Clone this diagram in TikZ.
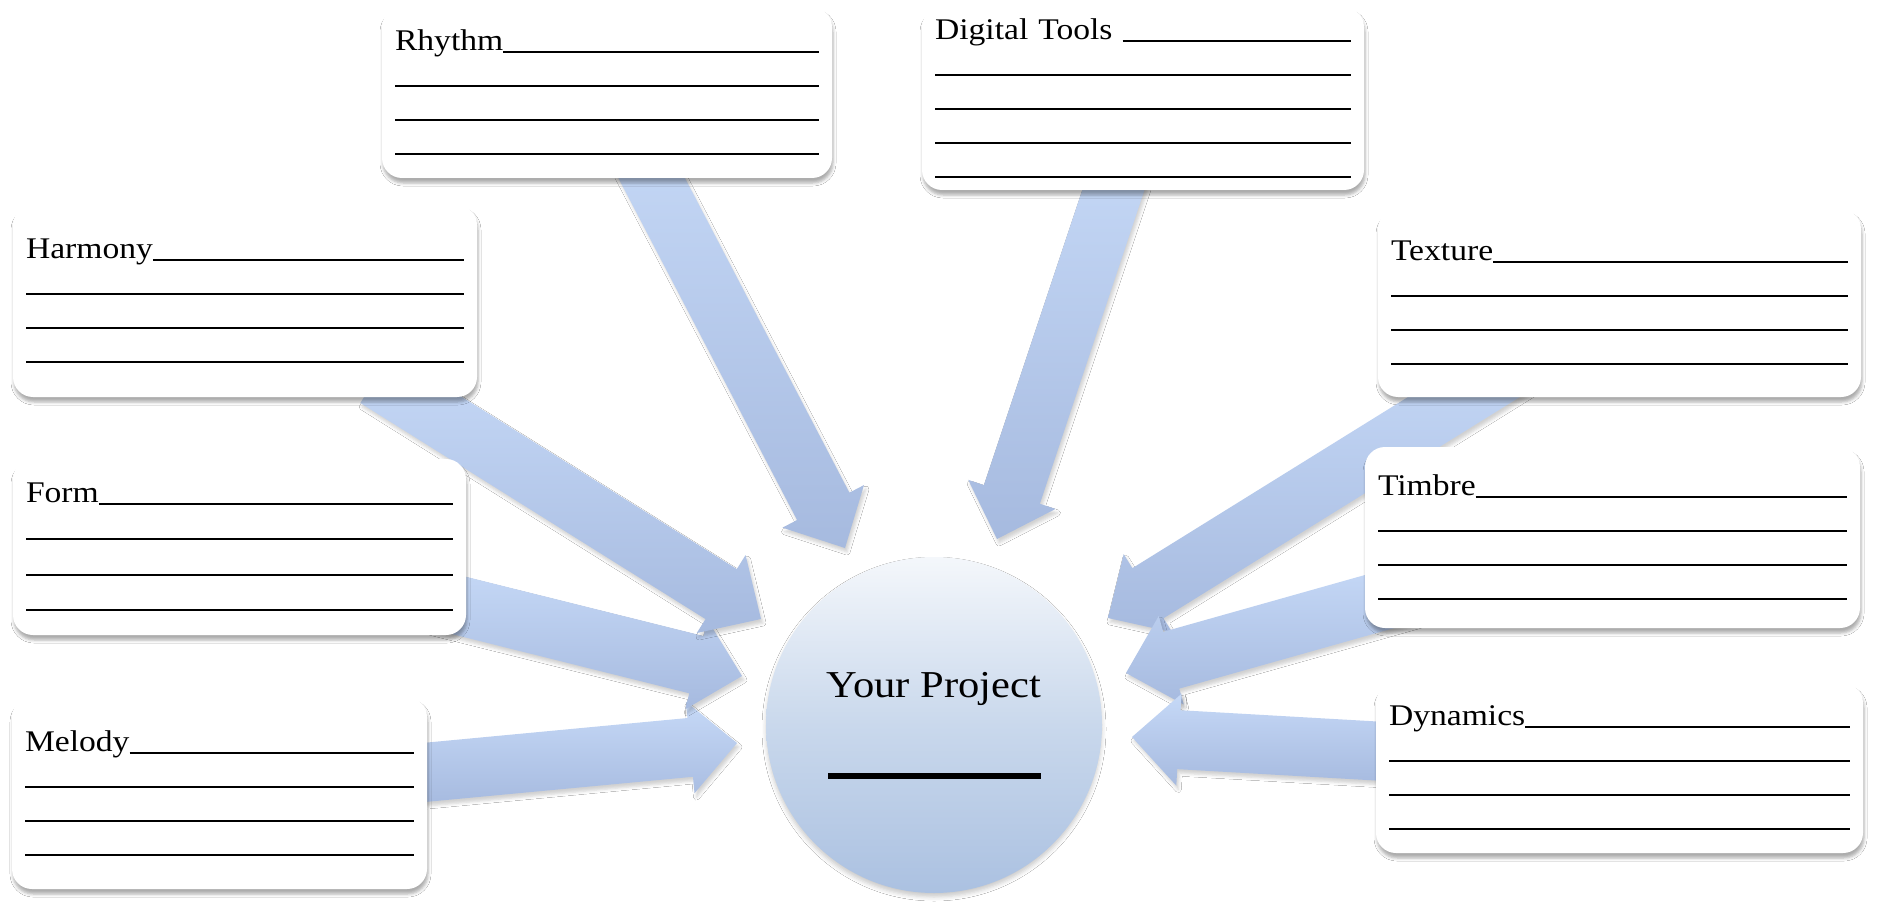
\documentclass[tikz,border=0pt]{standalone}
\usepackage{fontspec}
\setmainfont{Liberation Serif}[FakeStretch=1.12]
\usetikzlibrary{calc,shadows.blur}
\definecolor{arrTop}{HTML}{C6D9F7}
\definecolor{arrBot}{HTML}{A6BADF}
\definecolor{circTop}{HTML}{F4F7FB}
\definecolor{circMid}{HTML}{C9D8EC}
\definecolor{circBot}{HTML}{ABC1E1}
\newcommand\blankline{\leavevmode\leaders\hrule height -0.4pt depth 2.2pt\hfill\kern0pt}
\def\sw{29.5pt}
\def\hw{46pt}
\def\hl{47pt}
\newcommand\fatarrow[2]{%
  \coordinate (#1#2base) at ($(#2)!\hl!(#1)$);
  \path[fatarrowstyle]
    ($(#1)!\sw!90:(#2)$) --
    ($(#1#2base)!\sw!90:(#2)$) --
    ($(#1#2base)!\hw!90:(#2)$) --
    (#2) --
    ($(#1#2base)!\hw!-90:(#2)$) --
    ($(#1#2base)!\sw!-90:(#2)$) --
    ($(#1)!\sw!-90:(#2)$) -- cycle;
}
\tikzset{
  fatarrowstyle/.style={top color=arrTop, bottom color=arrBot,
    blur shadow={shadow xshift=2pt, shadow yshift=-4pt, shadow blur radius=3pt, shadow opacity=18}},
  card/.style={rounded corners=20pt, fill=white,
    blur shadow={shadow xshift=1pt, shadow yshift=-5pt, shadow blur radius=3pt, shadow opacity=32},
    inner xsep=13pt, inner ysep=0pt, align=left, anchor=center,
    font=\fontsize{30}{34}\selectfont},
}
\begin{document}
\begin{tikzpicture}[x=1pt, y=-1pt]
\fill[white] (0,0) rectangle (1896,912);
\useasboundingbox (0,0) rectangle (1896,912);

% arrow tails (inside boxes) and tips
\coordinate (tMelody) at (380,776.6);   \coordinate (pMelody) at (737,743);
\coordinate (tForm) at (407,592.5);     \coordinate (pForm) at (742,676);
\coordinate (tHarmony) at (376,378);    \coordinate (pHarmony) at (761,619);
\coordinate (tRhythm) at (625,127);     \coordinate (pRhythm) at (845,548);
\coordinate (tDigital) at (1129,143);   \coordinate (pDigital) at (997,539);
\coordinate (tTexture) at (1515.5,365); \coordinate (pTexture) at (1108,618);
\coordinate (tTimbre) at (1424,589);    \coordinate (pTimbre) at (1126,673);
\coordinate (tDynamics) at (1436,754.4);\coordinate (pDynamics) at (1132,737);

\fatarrow{tMelody}{pMelody}
\fatarrow{tForm}{pForm}
\fatarrow{tHarmony}{pHarmony}
\fatarrow{tRhythm}{pRhythm}
\fatarrow{tDigital}{pDigital}
\fatarrow{tTexture}{pTexture}
\fatarrow{tTimbre}{pTimbre}
\fatarrow{tDynamics}{pDynamics}

% boxes
\node[card, text width=424pt, minimum height=171pt] (rhythm) at (607,92.5)
  {Rhythm\blankline\\\blankline\\\blankline\\\blankline};
\node[card, text width=416pt, minimum height=183pt] (digital) at (1143,98.5)
  {Digital Tools \blankline\\\blankline\\\blankline\\\blankline\\\blankline};
\node[card, text width=438pt, minimum height=192pt] (harmony) at (245,301)
  {Harmony\blankline\\\blankline\\\blankline\\\blankline};
\node[card, text width=457pt, minimum height=188pt] (texture) at (1619.5,303)
  {Texture\blankline\\\blankline\\\blankline\\\blankline};
\node[card, text width=427pt, minimum height=176pt, font=\fontsize{30}{35.5}\selectfont] (form) at (239.5,547)
  {Form\blankline\\\blankline\\\blankline\\\blankline};
\node[card, text width=469pt, minimum height=181pt] (timbre) at (1612.5,537.5)
  {Timbre\blankline\\\blankline\\\blankline\\\blankline};
\node[card, text width=389pt, minimum height=192pt] (melody) at (219.5,793)
  {Melody\blankline\\\blankline\\\blankline\\\blankline};
\node[card, text width=461pt, minimum height=170pt] (dynamics) at (1619.5,768)
  {Dynamics\blankline\\\blankline\\\blankline\\\blankline};

% centre
\node[circle, minimum size=336pt, inner sep=0pt, top color=circTop, bottom color=circBot, middle color=circMid,
  blur shadow={shadow xshift=0pt, shadow yshift=-4pt, shadow blur radius=4pt, shadow opacity=20}] (proj) at (934,725) {};
\node[font=\fontsize{38}{44}\selectfont, anchor=base, inner sep=0pt] (projtext) at (934,697) {Your Project};
\node[fill=black, minimum width=213pt, minimum height=5.5pt, inner sep=0pt] (projline) at (934.5,776) {};
\end{tikzpicture}
\end{document}
